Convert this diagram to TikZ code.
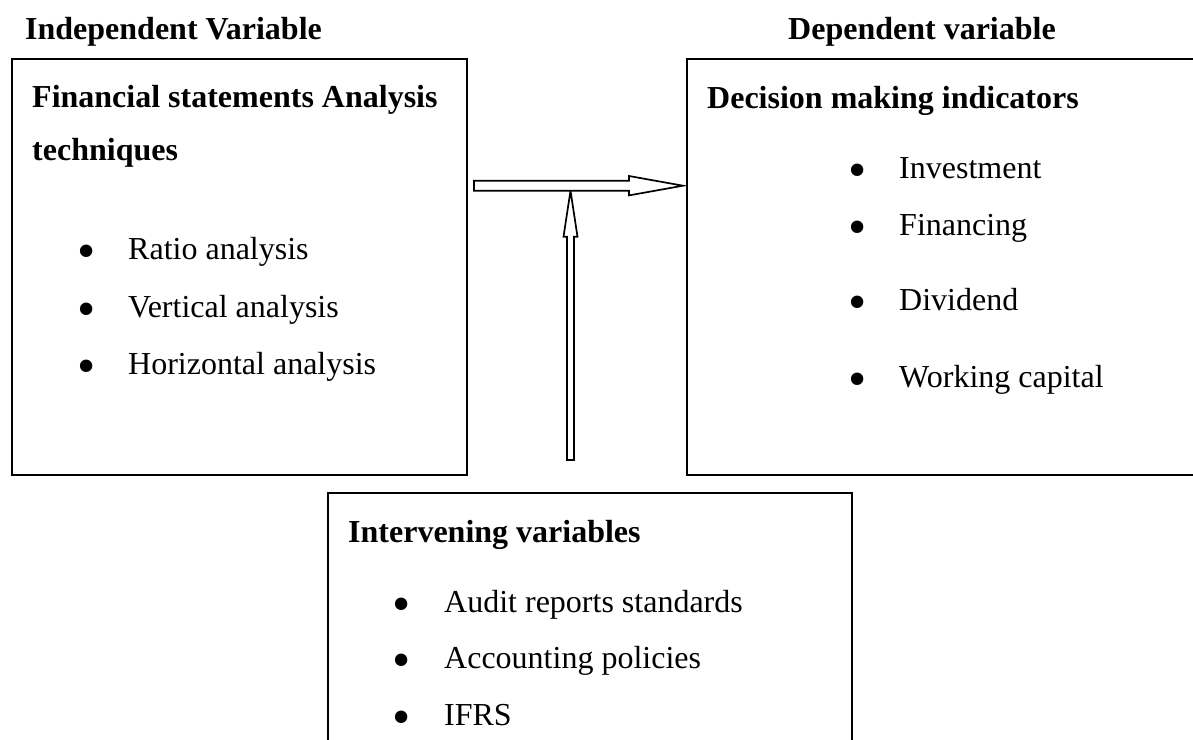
\documentclass[tikz,border=0pt]{standalone}
\usepackage{fontspec}
\setmainfont{Liberation Serif}
\usetikzlibrary{calc}

\tikzset{
  box/.style={draw, line width=1.5pt, anchor=north west, inner sep=0pt},
  head/.style={anchor=base west, inner sep=0pt, font=\fontsize{32}{38}\selectfont\bfseries},
  item/.style={anchor=base west, inner sep=0pt, font=\fontsize{32}{38}\selectfont},
  dot/.style={anchor=base, inner sep=0pt, yshift=-9.5pt, text height=0.45em,
    text depth=0pt, font=\fontsize{52}{56}\selectfont},
  blockarr/.style={draw, fill=white, line width=1.7pt, line join=miter},
}

\begin{document}
\begin{tikzpicture}[x=1pt, y=-1pt]
  \useasboundingbox (0,0) rectangle (1193,739);

  % boxes
  \node[box, minimum width=455, minimum height=416] (fsabox) at (11,58) {};
  \node[box, minimum width=509, minimum height=416] (dmibox) at (686,58) {};
  \node[box, minimum width=524, minimum height=260] (itvbox) at (327,492) {};

  % headings
  \node[head] (iv) at (25,39) {Independent Variable};
  \node[head] (dv) at (788,39) {Dependent variable};
  \node[head] (fsa1) at (32,107) {Financial statements Analysis};
  \node[head] (fsa2) at (32,160) {techniques};
  \node[head] (dmi) at (707,108) {Decision making indicators};
  \node[head] (itv) at (348,542) {Intervening variables};

  % bullet lists
  \foreach \txt/\y [count=\n] in {Ratio analysis/259, Vertical analysis/317,
                                   Horizontal analysis/374} {
    \node[dot] (fb\n) at (87,\y) {•};
    \node[item] (fi\n) at (128,\y) {\txt};
  }
  \foreach \txt/\y [count=\n] in {Investment/178, Financing/235,
                                   Dividend/310, Working capital/387} {
    \node[dot] (db\n) at (858,\y) {•};
    \node[item] (di\n) at (899,\y) {\txt};
  }
  \foreach \txt/\y [count=\n] in {Audit reports standards/612,
                                   Accounting policies/668, IFRS/725} {
    \node[dot] (ib\n) at (402,\y) {•};
    \node[item] (ii\n) at (444,\y) {\txt};
  }

  % block arrows
  \coordinate (vs) at (570.5,460);
  \coordinate (ve) at (570.5,190.7);
  \draw[blockarr] ($(vs)+(-3.5,0)$) -- ($(ve)+(-3.5,46)$) -- ($(ve)+(-7,46)$)
    -- (ve) -- ($(ve)+(7,46)$) -- ($(ve)+(3.5,46)$) -- ($(vs)+(3.5,0)$) -- cycle;

  \coordinate (hs) at (474,185.7);
  \coordinate (he) at (683,185.7);
  \draw[blockarr] ($(hs)+(0,-5)$) -- ($(he)+(-54,-5)$) -- ($(he)+(-54,-9.7)$)
    -- (he) -- ($(he)+(-54,9.7)$) -- ($(he)+(-54,5)$) -- ($(hs)+(0,5)$) -- cycle;

\end{tikzpicture}
\end{document}
